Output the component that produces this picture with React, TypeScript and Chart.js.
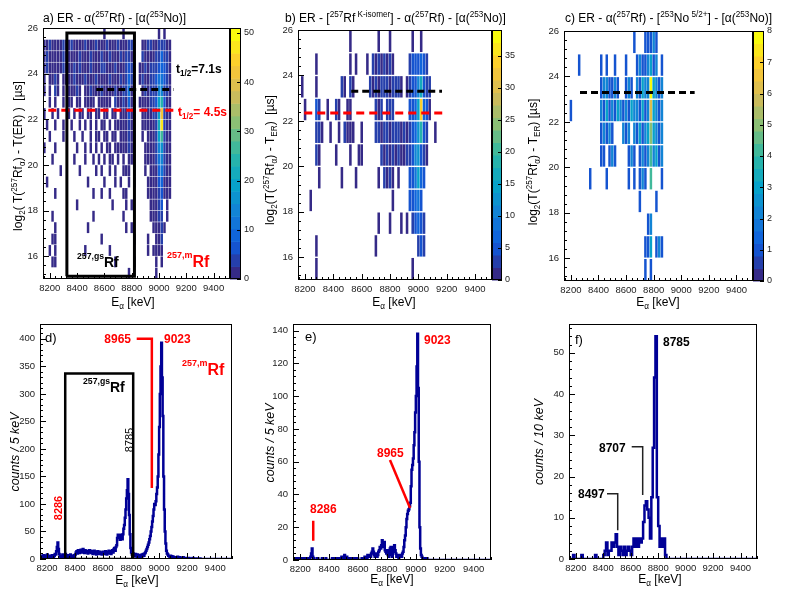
import React, { useEffect, useRef } from "react";
import { Chart, registerables } from "chart.js";

Chart.register(...registerables);

const FONT = '"Liberation Sans", Arial, Helvetica, sans-serif';
const RED = "#ff0000";
const NAVY = "#000096";
const W = 788;
const H = 593;
const YW = 40;
const XH = 20;

// ---------- axes ----------
const X_MIN = 8150;
const X_MAX = 9520;
const X_TICKS = [8200, 8400, 8600, 8800, 9000, 9200, 9400];
const HEAT_Y_TICKS = [16, 18, 20, 22, 24, 26];
const D_Y_TICKS = [0, 50, 100, 150, 200, 250, 300, 350, 400];
const E_Y_TICKS = [0, 20, 40, 60, 80, 100, 120, 140];
const F_Y_TICKS = [0, 10, 20, 30, 40, 50];
const A_Z_TICKS = [0, 10, 20, 30, 40, 50];
const B_Z_TICKS = [0, 5, 10, 15, 20, 25, 30, 35];
const C_Z_TICKS = [0, 1, 2, 3, 4, 5, 6, 7, 8];

// ---------- 2D maps: one string per log2(t) row (top row first), one char per 20 keV column from 8150 ----------
const LEVELS = "0123456789abcdefghijklmnopqrstuvwxyzABCDEFGHIJKLMNOPQRSTUVWXYZ";
const HEAT_X0 = 8150;
const HEAT_DX = 20;
const HEAT_YTOP = 26;

const A_ROWS = [
  ".......... .......... ..1......1 .......... ..1.1.....",
  "2131221312 3122131213 2213221321 2431..2133 2235321...",
  "1312212312 2213122312 1322312231 3512..3122 2358531...",
  "2312121322 1323122312 1331223122 3731.12313 3469631...",
  "2.1231.212 1321231223 1221321232 4a32.13224 46bc641...",
  "1.2.31.1.2 2131.21321 2312213214 3c21..1324 35ef531...",
  "..1.2..1.1 2.21.1212. 12212.3123 2921.12123 46ip621...",
  "1..1.2...1 .1.21.12.1 2.11.21.21 1621..2112 35kF521...",
  ".1..1..1.. 1..1.2.1.1 .12.1.2111 2512..1211 24lM521...",
  "..1....1.. .1..1..2.1 1.21.12.21 1411..1.12 24ir412...",
  "1...1..... ..1..1.1.2 .1.21.1121 1321...121 23fh412...",
  "...1...... .1...1..1. 1.1.12.1.2 .211...111 23cf311...",
  "......1... ...1.....1 .1..1.1..1 12.1...1.1 129b312...",
  ".1........ ......1... ..1...1.1. .1.1....11 2279211...",
  "....1..... ........1. .1..1....1 1.......12 1157121...",
  ".......... ..1....... .....1.... 1.1......1 2246.1....",
  "...1...... ........1. .........1 .........1 1134.1....",
  "....1..... ......1... .......... 1.1....... 11231.....",
  "...11..... .......... .1........ ...1....1. .123......",
  "..1.1..... .....1.... ....1..... ........1. 1112......",
  "...11..... .......... ......1... ...1...... .1.1......",
  ".......... .......... .......... .1........ .1........",
];

const B_ROWS = [
  ".......... ........1. ........1. ..1....... 1..1......",
  "......1... ........1. 1...1.2121 3121.....3 445643....",
  ".1....1... .....21.21 .....21312 2313221.12 45ag532...",
  "..1...42.. 1..21..11. .......212 .323.....4 57fy641...",
  "......231. .1..1.2111 ..1....231 2312231213 46ci52..1.",
  "......21.. ...1....1. .11......2 1312121123 4ad531....",
  ".......1.. .....1.... 1.......1. 2121.1...4 59e64.....",
  "....1..... .......... .......... ...1.....4 5784......",
  ".......... .......... ........1. ..1...1.1. 35642.....",
  "......1... .......... .......1.. .......... ..343.....",
  "......1... .......... .......... .......... 1.........",
];

const C_ROWS = [
  ".......... .......... .....1...1 1121...... ..........",
  ".....1.... ...1.1..1. ..1...1211 2312.1.... ..........",
  ".......... ...1221121 ..121.2132 283212.... ..........",
  "..1....... ...2131213 2121322131 263212.... ..........",
  ".......... ...12121.. .212.21312 353212.... ..........",
  ".......... ...11.121. ...121.121 242312.... ..........",
  ".........1 .....1.... ...1.1.121 .4...1.... ..........",
  ".......... .......... .......1.. ...1...... ..........",
  ".......... .......... .......... 12........ ..........",
  ".......... .......... .........1 13.121.... ..........",
  ".......... .......... .........1 .1........ ..........",
];

// ---------- 1D spectra ----------
const D_X0 = 8150; // 5 keV bins
const D_COUNTS = [
  5, 3, 6, 4, 2, 7, 5, 3, 4, 6, 8, 5, 3, 6, 4, 2, 5, 7, 4, 3, 6, 9,
  8, 14, 22, 30, 18, 9, 5, 4,
  3, 6, 8, 4, 2, 5, 9, 6, 3, 7, 4, 2, 6, 8, 5, 3, 5, 4, 7, 3,
  8, 12, 14, 10, 16, 13, 11, 15, 17, 12, 14, 18, 13, 11, 16, 15, 12, 14, 10, 13,
  16, 12, 15, 11, 14, 9, 12, 15, 13, 10, 8, 12, 14, 11, 9, 13, 10, 12, 8, 11,
  13, 9, 12, 14, 10, 8, 11, 13, 15, 10, 12, 9, 14, 16, 12, 18, 20, 15, 22, 25,
  38, 44, 40, 42, 35, 44, 38, 36, 45, 55,
  62, 75, 90, 110, 125, 145, 118, 80, 45, 20,
  12, 8, 6, 10, 7, 5, 9, 6, 4, 8, 5, 7, 3, 6, 4, 8, 5, 9, 6, 10,
  12, 15, 18, 22, 26, 30, 36, 42, 50, 58, 68, 78, 90, 100, 98, 105, 118, 130, 150, 190,
  240, 300, 350, 393, 330, 260, 150, 90, 50, 28, 15, 10, 8, 6, 5, 4, 6, 3, 5, 2,
  4, 3, 2, 3, 1, 2, 4, 2, 1, 3, 2, 1, 2, 1, 3, 1, 0, 2, 1, 1,
  1, 0, 2, 1, 0, 1, 1, 0, 2, 0, 1, 0, 1, 0, 0, 1, 0, 0, 1, 0,
  0, 0, 0, 0, 0, 0, 0, 0, 0, 0, 0, 0, 0, 0, 0, 0, 0, 0, 0, 0, 0, 0,
  0, 0, 0, 0, 0, 0, 0, 0, 0, 0, 0, 0, 0, 0, 0, 0, 0, 0, 0, 0, 0, 0,
];

const E_X0 = 8150; // 5 keV bins
const E_COUNTS = [
  1, 1, 0, 1, 1, 0, 1, 0, 1, 1, 0, 0, 1, 0, 1, 1, 0, 0, 1, 0, 0, 1,
  0, 1, 2, 4, 7, 2, 1, 0,
  0, 0, 0, 1, 1, 0, 0, 0, 0, 0, 1, 0, 0, 0, 0, 1, 0, 0, 0, 0,
  0, 0, 0, 0, 1, 0, 1, 1, 0, 1, 1, 0, 0, 1, 1, 0, 1, 2, 1, 0,
  1, 3, 2, 1, 2, 1, 1, 0, 1, 1, 0, 1, 1, 0, 0, 1, 0, 0, 0, 1,
  0, 0, 0, 0, 0, 1, 0, 1, 1, 2, 1, 2, 1, 3, 2, 3, 2, 2, 4, 5,
  7, 5, 3, 2, 3, 4, 2, 3, 5, 6, 8, 7, 9, 12, 10, 8, 11, 6, 5, 4,
  6, 3, 2, 4, 7, 8, 3, 2, 5, 8, 9, 6, 4, 2, 3, 2, 1, 2, 3, 2,
  2, 4, 5, 8, 12, 15, 20, 25, 28, 30, 31, 33, 35, 45, 55, 58, 62, 70, 78, 90,
  100, 118, 138, 105, 60, 20, 7, 3, 2, 1, 1, 0, 1, 0, 0, 1, 0, 0, 0, 0,
  0, 0, 0, 0, 0, 0, 0, 0, 0, 0, 0, 0, 0, 0, 0, 0, 0, 0, 0, 0, 0,
  0, 0, 0, 0, 0, 0, 0, 0, 0, 0, 0, 0, 0, 0, 0, 0, 0, 0, 0, 0, 0,
  0, 0, 0, 0, 0, 0, 0, 0, 0, 0, 0, 0, 0, 0, 0, 0, 0, 0, 0, 0, 0,
  0, 0, 0, 0, 0, 0, 0, 0, 0, 0, 0, 0, 0, 0, 0, 0, 0, 0, 0, 0, 0,
];

const F_X0 = 8150; // 10 keV bins
const F_COUNTS = [
  0, 0, 0, 1, 0, 0, 0, 0, 0, 1,
  0, 0, 0, 0, 0, 0, 0, 0, 0, 1,
  0, 0, 0, 0, 0, 1, 2, 4, 1, 2,
  2, 4, 3, 4, 6, 3, 1, 3, 2, 1,
  3, 1, 2, 3, 2, 1, 3, 5, 3, 5,
  3, 5, 4, 5, 9, 13, 14, 12, 10, 5,
  15, 27, 44, 54, 15, 8, 3, 5, 3, 5,
  1, 0, 0, 0, 0, 0, 0, 0, 0, 0,
  0, 0, 0, 0, 0, 0, 0, 0, 0, 0, 0, 0, 0, 0, 0, 0, 0, 0, 0,
  0, 0, 0, 0, 0, 0, 0, 0, 0, 0, 0, 0, 0, 0, 0, 0, 0, 0, 0,
  0, 0, 0, 0, 0, 0, 0, 0, 0, 0, 0, 0, 0, 0, 0, 0, 0, 0, 0,
];

// ---------- palette (ROOT kBird) ----------
const BIRD_R = [0.2082, 0.0592, 0.078, 0.0232, 0.1802, 0.5301, 0.8186, 0.9956, 0.9764];
const BIRD_G = [0.1664, 0.3599, 0.5041, 0.6419, 0.7178, 0.7492, 0.7328, 0.7862, 0.9832];
const BIRD_B = [0.5293, 0.8684, 0.8385, 0.7914, 0.6425, 0.4662, 0.3499, 0.1968, 0.0539];
function bird(f: number) {
  const q = Math.max(0, Math.min(1, f)) * 8;
  const i = Math.min(7, Math.floor(q));
  const t = q - i;
  const c = (a: number[]) => Math.round((a[i] + (a[i + 1] - a[i]) * t) * 255);
  return `rgb(${c(BIRD_R)},${c(BIRD_G)},${c(BIRD_B)})`;
}
const NCONT = 20;
function cellColor(v: number, zMax: number) {
  const lev = Math.min(NCONT - 1, Math.floor((v / zMax) * NCONT));
  return bird(lev / (NCONT - 1));
}

function cellsFrom(rows: string[], dy: number, inset: number) {
  const out: any[] = [];
  rows.forEach((raw, r) => {
    const row = raw.replace(/ /g, "");
    for (let c = 0; c < row.length; c++) {
      const v = LEVELS.indexOf(row[c]);
      if (v > 0) {
        const top = HEAT_YTOP - dy * r;
        out.push({ x: HEAT_X0 + HEAT_DX * c + HEAT_DX / 2, y: [top - dy + inset, top - inset], v });
      }
    }
  });
  return out;
}

function histPoints(x0: number, w: number, counts: number[]) {
  const pts = counts.map((v, i) => ({ x: x0 + i * w, y: v }));
  pts.push({ x: x0 + counts.length * w, y: counts[counts.length - 1] });
  return pts;
}

// ---------- rich text ----------
type Part = [string, string?];
function drawRich(ctx: CanvasRenderingContext2D, t: any) {
  const size = t.size;
  const ss = t.supScale ?? 0.68;
  const raise = t.supRaise ?? size * 0.42;
  const drop = t.subDrop ?? size * 0.28;
  const style = (t.italic ? "italic " : "") + (t.bold ? "bold " : "");
  const fontFor = (m?: string) => `${style}${m ? size * ss : size}px ${FONT}`;
  let total = 0;
  const widths = t.parts.map(([s, m]: Part) => {
    ctx.font = fontFor(m);
    const w = ctx.measureText(s).width;
    total += w;
    return w;
  });
  ctx.save();
  ctx.translate(t.x, t.y);
  if (t.rot) ctx.rotate(-Math.PI / 2);
  ctx.fillStyle = t.color || "#000";
  ctx.textAlign = "left";
  ctx.textBaseline = "alphabetic";
  let cx = t.align === "center" ? -total / 2 : t.align === "right" ? -total : 0;
  t.parts.forEach(([s, m]: Part, i: number) => {
    ctx.font = fontFor(m);
    ctx.fillText(s, cx, m === "^" ? -raise : m === "_" ? drop : 0);
    cx += widths[i];
  });
  ctx.restore();
}

const E_ALPHA: Part[] = [["E"], ["α", "_"], [" [keV]"]];

function steps(min: number, max: number, step: number) {
  const out: number[] = [];
  const k0 = Math.ceil(min / step - 1e-9);
  const k1 = Math.floor(max / step + 1e-9);
  for (let k = k0; k <= k1; k++) out.push(+(k * step).toFixed(6));
  return out;
}
const isMult = (v: number, m: number) => Math.abs(v / m - Math.round(v / m)) < 1e-6;

function overlay(p: any) {
  return {
    id: "overlay",
    afterDraw(chart: any) {
      const { ctx, chartArea: a, scales } = chart;
      const xs = scales.x;
      const ys = scales.y;
      ctx.save();
      ctx.strokeStyle = "#000";
      ctx.lineWidth = 1;
      ctx.beginPath();
      steps(X_MIN, X_MAX, 40).forEach((v) => {
        const px = Math.round(xs.getPixelForValue(v)) + 0.5;
        const len = isMult(v, 200) ? 6 : 3;
        ctx.moveTo(px, a.bottom);
        ctx.lineTo(px, a.bottom - len);
      });
      steps(p.yMin, p.yMax, p.yMinor).forEach((v) => {
        const py = Math.round(ys.getPixelForValue(v)) + 0.5;
        const len = isMult(v, p.yMajor) ? 6 : 3;
        ctx.moveTo(a.left, py);
        ctx.lineTo(a.left + len, py);
      });
      ctx.stroke();
      ctx.strokeRect(a.left + 0.5, a.top + 0.5, a.right - a.left - 1, a.bottom - a.top - 1);

      if (p.zMax) {
        const bx = a.right;
        const bw = p.barW;
        const hh = a.bottom - a.top;
        for (let i = 0; i < NCONT; i++) {
          const y0 = a.bottom - (i / NCONT) * hh;
          const y1 = a.bottom - ((i + 1) / NCONT) * hh;
          ctx.fillStyle = bird(i / (NCONT - 1));
          ctx.fillRect(bx, y1, bw, y0 - y1 + 0.5);
        }
        ctx.strokeStyle = "#000";
        ctx.strokeRect(bx + 0.5, a.top + 0.5, bw - 1, hh - 1);
        ctx.fillStyle = "#222";
        ctx.font = `9px ${FONT}`;
        ctx.textBaseline = "middle";
        ctx.textAlign = "left";
        ctx.beginPath();
        p.zTicks.forEach((z: number) => {
          const py = a.bottom - (z / p.zMax) * hh;
          ctx.moveTo(bx + bw, Math.round(py) + 0.5);
          ctx.lineTo(bx + bw - 4, Math.round(py) + 0.5);
          ctx.fillText(String(z), bx + bw + 3, py);
        });
        ctx.stroke();
      }
      p.texts.forEach((t: any) => drawRich(ctx, t));
      ctx.restore();
    },
  };
}

function lineSet(l: any) {
  return {
    type: "line",
    data: l.pts.map(([x, y]: number[]) => ({ x, y })),
    borderColor: l.color,
    borderWidth: l.width,
    borderDash: l.dash || [],
    borderCapStyle: "butt",
    borderJoinStyle: "miter",
    pointRadius: 0,
    fill: false,
    tension: 0,
    order: 0,
  };
}

function makeConfig(p: any) {
  const tickFont = { family: FONT, size: 9.5 };
  const datasets: any[] = p.lines.map(lineSet);
  if (p.kind === "heat") {
    datasets.push({
      type: "bar",
      data: p.cells,
      backgroundColor: (c: any) => (c.raw && c.raw.v ? cellColor(c.raw.v, p.zMax) : "rgba(0,0,0,0)"),
      borderWidth: 0,
      barPercentage: 0.9,
      categoryPercentage: 1,
      grouped: false,
      order: 1,
    });
  } else {
    datasets.push({
      type: "line",
      data: p.hist,
      borderColor: NAVY,
      borderWidth: 2.5,
      stepped: true,
      pointRadius: 0,
      fill: false,
      tension: 0,
      order: 1,
    });
  }
  return {
    type: p.kind === "heat" ? "bar" : "line",
    data: { datasets },
    plugins: [overlay(p)],
    options: {
      responsive: false,
      animation: false,
      events: [],
      layout: {
        padding: { left: p.area.l - YW, top: p.area.t, right: W - p.area.r, bottom: H - p.area.b - XH },
      },
      plugins: { legend: { display: false }, tooltip: { enabled: false }, title: { display: false } },
      scales: {
        x: {
          type: "linear",
          min: X_MIN,
          max: X_MAX,
          offset: false,
          grid: { display: false, drawTicks: false },
          border: { display: false },
          ticks: { font: tickFont, color: "#222", padding: 4, maxRotation: 0, autoSkip: false, callback: (v: any) => String(v) },
          afterBuildTicks: (s: any) => {
            s.ticks = X_TICKS.map((v) => ({ value: v }));
          },
          afterFit: (s: any) => {
            s.height = XH;
          },
        },
        y: {
          type: "linear",
          min: p.yMin,
          max: p.yMax,
          grid: { display: false, drawTicks: false },
          border: { display: false },
          ticks: { font: tickFont, color: "#222", padding: 5, autoSkip: false, callback: (v: any) => String(v) },
          afterBuildTicks: (s: any) => {
            s.ticks = p.yTicks.map((v: number) => ({ value: v }));
          },
          afterFit: (s: any) => {
            s.width = YW;
          },
        },
      },
    },
  };
}

const LOG_A: Part[] = [["log"], ["2", "_"], ["( T("], ["257", "^"], ["Rf"], ["α", "_"], [") - T(ER) )  [µs]"]];
const LOG_B: Part[] = [["log"], ["2", "_"], ["(T("], ["257", "^"], ["Rf"], ["α", "_"], [") - T"], ["ER", "_"], [")  [µs]"]];
const LOG_C: Part[] = [["log"], ["2", "_"], ["(T("], ["257", "^"], ["Rf"], ["α", "_"], [") - T"], ["ER", "_"], [") [µs]"]];

const PANELS: any[] = [
  {
    kind: "heat",
    area: { l: 43, t: 28, r: 230, b: 279 },
    yMin: 15, yMax: 26, yTicks: HEAT_Y_TICKS, yMajor: 2, yMinor: 0.4,
    zMax: 51, zTicks: A_Z_TICKS, barW: 11,
    cells: cellsFrom(A_ROWS, 0.5, 0.012),
    lines: [
      { pts: [[8325, 15.12], [8325, 25.78], [8820, 25.78], [8820, 15.12], [8325, 15.12]], color: "#000", width: 3 },
      { pts: [[8540, 23.3], [9107, 23.3]], color: "#000", width: 3, dash: [7, 4] },
      { pts: [[8189, 22.4], [9154, 22.4]], color: RED, width: 3, dash: [8, 5] },
    ],
    texts: [
      { parts: [["a) ER - α("], ["257", "^"], ["Rf) - [α("], ["253", "^"], ["No)]"]], x: 43, y: 22, size: 12 },
      { parts: LOG_A, x: 22, y: 156, size: 12, rot: true, align: "center" },
      { parts: E_ALPHA, x: 133, y: 306, size: 12, align: "center" },
      { parts: [["t"], ["1/2", "_"], ["=7.1s"]], x: 176, y: 73, size: 12, bold: true },
      { parts: [["t"], ["1/2", "_"], ["= 4.5s"]], x: 178, y: 116, size: 12, bold: true, color: RED },
      { parts: [["257,gs", "^"], ["Rf"]], x: 77, y: 267, size: 14, bold: true, supScale: 0.62, supRaise: 8 },
      { parts: [["257,m", "^"], ["Rf"]], x: 167, y: 267, size: 16, bold: true, color: RED, supScale: 0.56, supRaise: 9 },
    ],
  },
  {
    kind: "heat",
    area: { l: 298, t: 30, r: 492, b: 280 },
    yMin: 15, yMax: 26, yTicks: HEAT_Y_TICKS, yMajor: 2, yMinor: 0.4,
    zMax: 39, zTicks: B_Z_TICKS, barW: 10,
    cells: cellsFrom(B_ROWS, 1, 0.03),
    lines: [
      { pts: [[8526, 23.3], [9167, 23.3]], color: "#000", width: 3, dash: [7, 4] },
      { pts: [[8194, 22.35], [9183, 22.35]], color: RED, width: 3, dash: [8, 5] },
    ],
    texts: [
      {
        parts: [["b) ER - ["], ["257", "^"], ["Rf"], [" K-isomer", "^"], ["] - α("], ["257", "^"], ["Rf) - [α("], ["253", "^"], ["No)]"]],
        x: 285, y: 22, size: 12,
      },
      { parts: LOG_B, x: 274, y: 160, size: 12, rot: true, align: "center" },
      { parts: E_ALPHA, x: 394, y: 306, size: 12, align: "center" },
    ],
  },
  {
    kind: "heat",
    area: { l: 564, t: 31, r: 753, b: 281 },
    yMin: 15, yMax: 26, yTicks: HEAT_Y_TICKS, yMajor: 2, yMinor: 0.4,
    zMax: 8, zTicks: C_Z_TICKS, barW: 11,
    cells: cellsFrom(C_ROWS, 1, 0.03),
    lines: [{ pts: [[8266, 23.29], [9097, 23.29]], color: "#000", width: 3, dash: [7, 4] }],
    texts: [
      {
        parts: [["c) ER - α("], ["257", "^"], ["Rf) - ["], ["253", "^"], ["No"], [" 5/2+", "^"], ["] - [α("], ["253", "^"], ["No)]"]],
        x: 565, y: 22, size: 12,
      },
      { parts: LOG_C, x: 537, y: 162, size: 12, rot: true, align: "center" },
      { parts: E_ALPHA, x: 658, y: 306, size: 12, align: "center" },
    ],
  },
  {
    kind: "hist",
    area: { l: 40, t: 324, r: 232, b: 559 },
    yMin: 0, yMax: 427, yTicks: D_Y_TICKS, yMajor: 50, yMinor: 10,
    hist: histPoints(D_X0, 5, D_COUNTS),
    lines: [
      { pts: [[8330, 0], [8330, 337], [8815, 337], [8815, 0], [8330, 0]], color: "#000", width: 2.5 },
      { pts: [[8840, 400], [8948, 400], [8948, 129]], color: RED, width: 2.5 },
    ],
    texts: [
      { parts: [["d)"]], x: 45, y: 342, size: 13 },
      { parts: [["8965"]], x: 131, y: 343, size: 12, bold: true, color: RED, align: "right" },
      { parts: [["9023"]], x: 164, y: 343, size: 12, bold: true, color: RED },
      { parts: [["257,m", "^"], ["Rf"]], x: 182, y: 375, size: 16, bold: true, color: RED, supScale: 0.56, supRaise: 9 },
      { parts: [["257,gs", "^"], ["Rf"]], x: 83, y: 392, size: 14, bold: true, supScale: 0.62, supRaise: 8 },
      { parts: [["8785"]], x: 133, y: 440, size: 11, rot: true, align: "center" },
      { parts: [["8286"]], x: 62, y: 508, size: 11, bold: true, color: RED, rot: true, align: "center" },
      { parts: [["counts / 5 keV"]], x: 18.5, y: 452, size: 12.5, italic: true, rot: true, align: "center" },
      { parts: E_ALPHA, x: 137, y: 584, size: 12, align: "center" },
    ],
  },
  {
    kind: "hist",
    area: { l: 293, t: 324, r: 491, b: 560 },
    yMin: 0, yMax: 144, yTicks: E_Y_TICKS, yMajor: 20, yMinor: 4,
    hist: histPoints(E_X0, 5, E_COUNTS),
    lines: [
      { pts: [[8821, 61], [8960, 31.7]], color: RED, width: 2.5 },
      { pts: [[8290, 24], [8290, 11.8]], color: RED, width: 2.5 },
    ],
    texts: [
      { parts: [["e)"]], x: 305, y: 341, size: 13 },
      { parts: [["9023"]], x: 424, y: 344, size: 12, bold: true, color: RED },
      { parts: [["8965"]], x: 377, y: 457, size: 12, bold: true, color: RED },
      { parts: [["8286"]], x: 310, y: 513, size: 12, bold: true, color: RED },
      { parts: [["counts / 5 keV"]], x: 274, y: 443, size: 12.5, italic: true, rot: true, align: "center" },
      { parts: E_ALPHA, x: 392, y: 583, size: 12, align: "center" },
    ],
  },
  {
    kind: "hist",
    area: { l: 569, t: 324, r: 757, b: 559 },
    yMin: 0, yMax: 57, yTicks: F_Y_TICKS, yMajor: 10, yMinor: 2,
    hist: histPoints(F_X0, 10, F_COUNTS),
    lines: [
      { pts: [[8607, 27.2], [8687, 27.2], [8687, 15.5]], color: "#222", width: 1.5 },
      { pts: [[8427, 15.8], [8505, 15.8], [8505, 7]], color: "#222", width: 1.5 },
    ],
    texts: [
      { parts: [["f)"]], x: 575, y: 344, size: 13 },
      { parts: [["8785"]], x: 663, y: 346, size: 12, bold: true },
      { parts: [["8707"]], x: 599, y: 452, size: 12, bold: true },
      { parts: [["8497"]], x: 578, y: 498, size: 12, bold: true },
      { parts: [["counts / 10 keV"]], x: 543, y: 442, size: 12.5, italic: true, rot: true, align: "center" },
      { parts: E_ALPHA, x: 660, y: 583, size: 12, align: "center" },
    ],
  },
];

export default function App() {
  const holder = useRef<HTMLDivElement>(null);
  useEffect(() => {
    const canvases = Array.from(holder.current!.querySelectorAll("canvas"));
    const charts = PANELS.map((p, i) => new Chart(canvases[i] as HTMLCanvasElement, makeConfig(p) as any));
    return () => charts.forEach((c) => c.destroy());
  }, []);
  return (
    <div
      ref={holder}
      style={{ position: "absolute", left: 0, top: 0, width: W, height: H, background: "#fff", overflow: "hidden" }}
    >
      {PANELS.map((_, i) => (
        <canvas key={i} width={W} height={H} style={{ position: "absolute", left: 0, top: 0 }} />
      ))}
    </div>
  );
}
